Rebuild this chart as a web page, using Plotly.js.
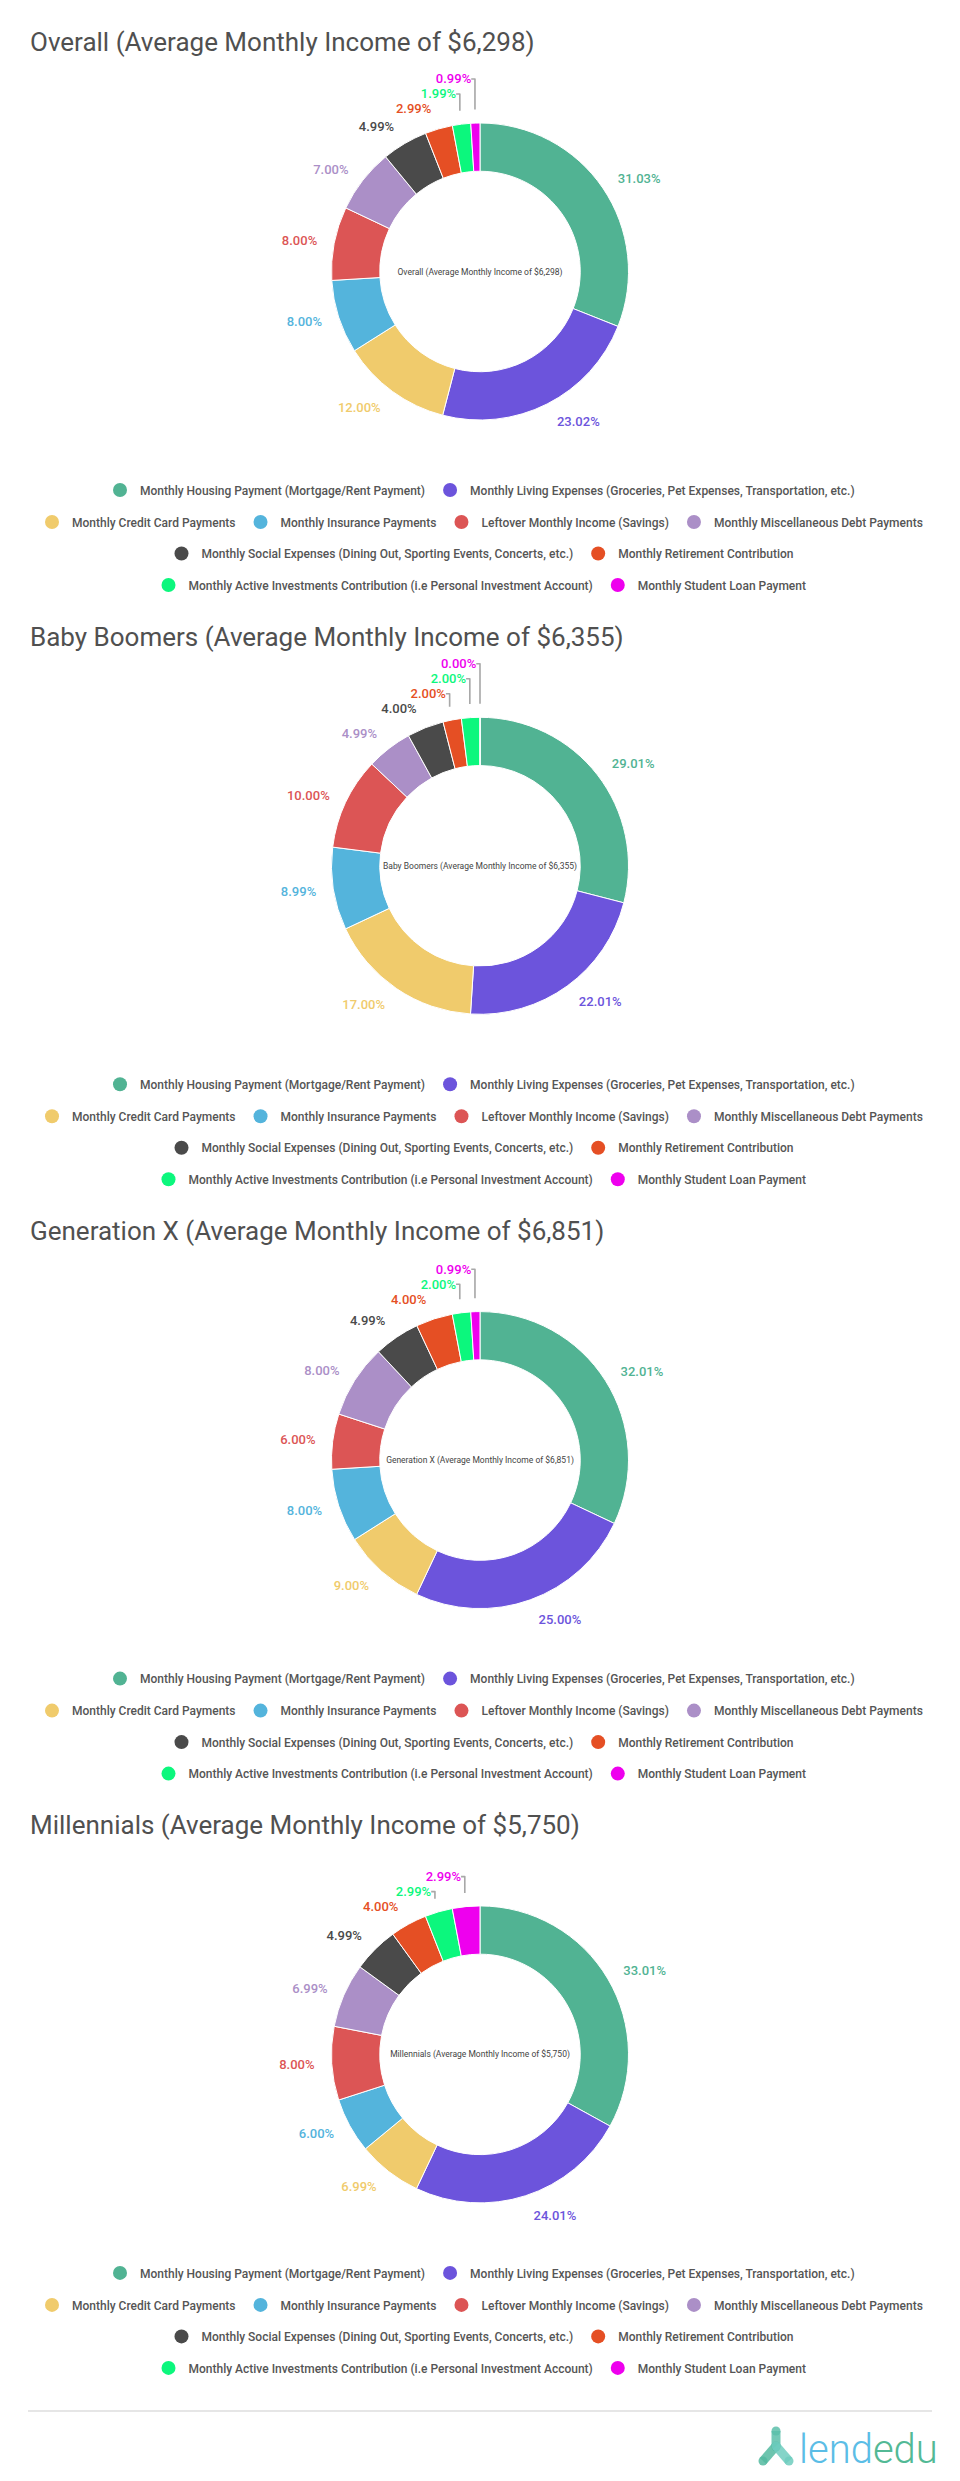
<!DOCTYPE html>
<html>
<head>
<meta charset="utf-8">
<script src="https://cdn.plot.ly/plotly-3.0.1.min.js"></script>
<style>
  html, body { margin: 0; padding: 0; background: #ffffff; }
  #chart { width: 960px; height: 2481px; }
</style>
</head>
<body>
<div id="chart"></div>
<script>
// ---------------- DATA ----------------
const categories = [
  "Monthly Housing Payment (Mortgage/Rent Payment)",
  "Monthly Living Expenses (Groceries, Pet Expenses, Transportation, etc.)",
  "Monthly Credit Card Payments",
  "Monthly Insurance Payments",
  "Leftover Monthly Income (Savings)",
  "Monthly Miscellaneous Debt Payments",
  "Monthly Social Expenses (Dining Out, Sporting Events, Concerts, etc.)",
  "Monthly Retirement Contribution",
  "Monthly Active Investments Contribution (i.e Personal Investment Account)",
  "Monthly Student Loan Payment"
];
const groups = ["Overall", "Baby Boomers", "Generation X", "Millennials"];
const incomes = ["$6,298", "$6,355", "$6,851", "$5,750"];

const overall     = [31.03, 23.02, 12.00, 8.00, 8.00, 7.00, 4.99, 2.99, 1.99, 0.99];
const babyBoomers = [29.01, 22.01, 17.00, 8.99, 10.00, 4.99, 4.00, 2.00, 2.00, 0.00];
const generationX = [32.01, 25.00, 9.00, 8.00, 6.00, 8.00, 4.99, 4.00, 2.00, 0.99];
const millennials = [33.01, 24.01, 6.99, 6.00, 8.00, 6.99, 4.99, 4.00, 2.99, 2.99];
const seriesValues = [overall, babyBoomers, generationX, millennials];

// ---------------- STYLE / LAYOUT ----------------
const sliceColors = ["#51b393", "#6c54dc", "#f0cb6c", "#54b4dc", "#dc5555",
                     "#ab8fc7", "#4a4a4a", "#e54f24", "#0cf77d", "#ee00ee"];
const W = 960, H = 2481;
const STEP = 594.3;
const TITLE_Y = 42.5, PIE_CY = 271.5, PIE_R = 148.5, LABEL_R = 162;
const LEGEND_ROWS_Y = [490, 522, 553.5, 585];
const LEGEND_ROWS = [[0, 1], [2, 3, 4, 5], [6, 7], [8, 9]];

const px = x => x / W;
const py = y => 1 - y / H;

const traces = [];
const annotations = [];
const layout = {
  width: W, height: H,
  margin: {l: 0, r: 0, t: 0, b: 0},
  paper_bgcolor: "#ffffff",
  plot_bgcolor: "#ffffff",
  showlegend: true,
  font: {family: "Roboto, sans-serif", color: "#4a4a4a"},
  xaxis: {visible: false, range: [0, 1], fixedrange: true},
  yaxis: {visible: false, range: [0, 1], fixedrange: true},
  annotations: annotations,
  shapes: []
};

let legendIndex = 0;
groups.forEach((g, s) => {
  const off = s * STEP;
  const title = `${g} (Average Monthly Income of ${incomes[s]})`;
  const vals = seriesValues[s];

  annotations.push({
    xref: "paper", yref: "paper",
    x: px(28), y: py(TITLE_Y + off), xanchor: "left", yanchor: "middle",
    text: title, showarrow: false,
    font: {family: "Roboto, sans-serif", size: 26, color: "#505050"}
  });

  // visible donut
  traces.push({
    type: "pie",
    labels: categories,
    values: vals,
    sort: false,
    direction: "clockwise",
    rotation: 0,
    hole: 0.675,
    showlegend: false,
    marker: {colors: sliceColors, line: {color: "#ffffff", width: 1}},
    textposition: "none",
    hoverinfo: "skip",
    title: {text: title, position: "middle center",
            font: {family: "Roboto, sans-serif", size: 8.5, color: "#444444"}},
    domain: {x: [0, 1], y: [py(PIE_CY + off + PIE_R), py(PIE_CY + off - PIE_R)]}
  });

  // transparent ring, slightly larger, that carries the outside value labels
  traces.push({
    type: "pie",
    labels: categories,
    values: vals,
    sort: false,
    direction: "clockwise",
    rotation: 0,
    hole: 0.98,
    showlegend: false,
    marker: {colors: categories.map(() => "rgba(0,0,0,0)"), line: {width: 0}},
    text: vals.map((v, i) => `<span style="color:${sliceColors[i]}">${v.toFixed(2)}%</span>`),
    texttemplate: "%{text}",
    textposition: "outside",
    outsidetextfont: {family: "Roboto, sans-serif", size: 13, color: "#a8a8a8", weight: 500},
    hoverinfo: "skip",
    domain: {x: [0, 1], y: [py(PIE_CY + off + LABEL_R), py(PIE_CY + off - LABEL_R)]}
  });

  LEGEND_ROWS.forEach((row, r) => {
    legendIndex += 1;
    const lname = legendIndex === 1 ? "legend" : "legend" + legendIndex;
    row.forEach(ci => {
      traces.push({
        type: "scatter", mode: "markers",
        x: [null], y: [null],
        name: categories[ci],
        legend: lname,
        marker: {size: 14, color: sliceColors[ci]},
        hoverinfo: "skip"
      });
    });
    layout[lname] = {
      orientation: "h",
      x: 0.5, xanchor: "center",
      y: py(LEGEND_ROWS_Y[r] + off), yanchor: "middle",
      bgcolor: "rgba(0,0,0,0)",
      itemwidth: 30,
      font: {family: "Roboto, sans-serif", size: 12, color: "#555555", weight: 500},
      itemclick: false, itemdoubleclick: false
    };
  });
});

// separator line
layout.shapes.push({
  type: "line", xref: "paper", yref: "paper",
  x0: px(28), x1: px(932), y0: py(2411), y1: py(2411),
  line: {color: "#e6e6e6", width: 2}
});

// logo icon
const iconParts = [
  {a: [776, 2431], b: [776, 2447], c: "rgba(92,192,170,0.85)"},
  {a: [776, 2446], b: [763, 2461], c: "rgba(84,186,160,0.85)"},
  {a: [776, 2446], b: [789, 2461], c: "rgba(110,205,190,0.85)"}
];
iconParts.forEach(p => {
  layout.shapes.push({
    type: "line", xref: "paper", yref: "paper",
    x0: px(p.a[0]), y0: py(p.a[1]), x1: px(p.b[0]), y1: py(p.b[1]),
    line: {color: p.c, width: 9}
  });
  [p.a, p.b].forEach(e => {
    layout.shapes.push({
      type: "circle", xref: "paper", yref: "paper",
      x0: px(e[0] - 4.5), x1: px(e[0] + 4.5), y0: py(e[1] + 4.5), y1: py(e[1] - 4.5),
      fillcolor: p.c, line: {width: 0}
    });
  });
});
annotations.push({
  xref: "paper", yref: "paper",
  x: px(797), y: py(2449), xanchor: "left", yanchor: "middle",
  showarrow: false,
  text: '<span style="color:#5bbde6">lend</span><span style="color:#53b995">edu</span>',
  font: {family: "Roboto, sans-serif", size: 40, weight: 300, color: "#5bbde6"}
});

Plotly.newPlot("chart", traces, layout, {displayModeBar: false, staticPlot: true});
</script>
</body>
</html>
